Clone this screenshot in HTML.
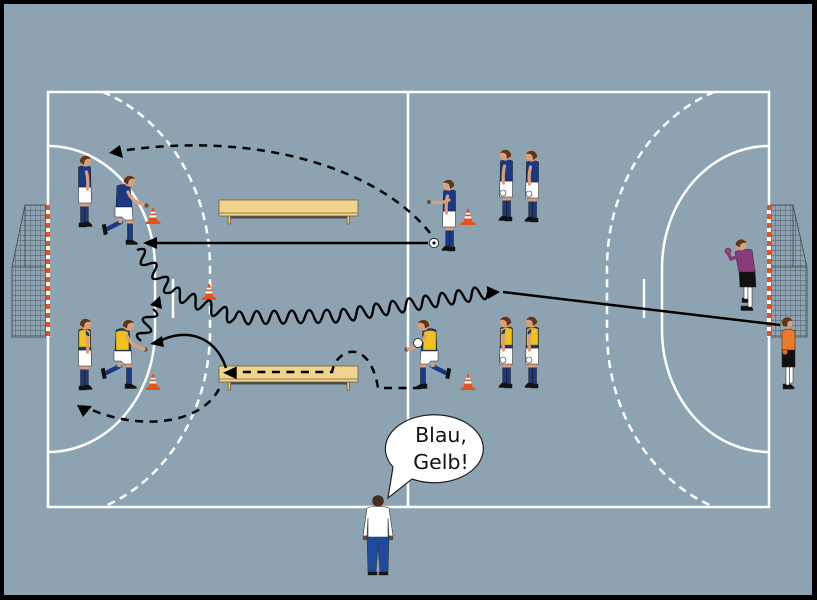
<!DOCTYPE html>
<html><head><meta charset="utf-8"><style>html,body{margin:0;padding:0;background:#000}svg{display:block}</style></head>
<body>
<svg width="817" height="600" viewBox="0 0 817 600" xmlns="http://www.w3.org/2000/svg">
<defs>
 <pattern id="net" width="5" height="5" patternUnits="userSpaceOnUse">
  <path d="M0,0 H5 M0,0 V5" stroke="#3b4650" stroke-width="0.7" fill="none"/>
 </pattern>
 <pattern id="post" width="4" height="9" patternUnits="userSpaceOnUse" x="0" y="205">
  <rect width="4" height="9" fill="#fff"/><rect width="4" height="5" fill="#e4531b"/>
 </pattern>
 <g id="cone">
  <path d="M-8,0 h16 l-2,-3 h-12 z" fill="#e4531b"/>
  <path d="M-4.5,-3 L-0.8,-16 h1.6 L4.5,-3 z" fill="#e4531b"/>
  <path d="M-3.5,-6.5 h7 l-0.6,-2.2 h-5.8z" fill="#fff"/>
  <path d="M-2.4,-10.5 h4.8 l-0.5,-1.8 h-3.8z" fill="#fff"/>
 </g>
 <g id="sB" stroke="#1a1a1a" stroke-width="0.5">
  <path d="M-6,-4 h6 l1.5,3 v1 h-7.5z" fill="#111"/>
  <path d="M-1,-5 h5 l3,3 v1.5 h-8z" fill="#111"/>
  <path d="M-4.5,-21 h3.8 v17 h-3.8z" fill="#1a3883"/>
  <path d="M-0.5,-21 h3.8 v16 h-3.8z" fill="#1a3883"/>
  <path d="M-4.5,-24 h8 v3.5 h-8z" fill="#dba07a" stroke="none"/>
  <path d="M-6.5,-40 h12.5 l0.5,16 h-13z" fill="#fff"/>
  <path d="M-6.5,-60 q6.5,-3 12,0 l0.5,20 h-12.5z" fill="#1a3883"/>
  <path d="M1.5,-55 q2,8 1,17" stroke="#dba07a" stroke-width="3.2" fill="none" stroke-linecap="round"/>
  <circle cx="0.5" cy="-66" r="5.6" fill="#dba07a" stroke="none"/>
  <path d="M-5.2,-65 a5.8,5.8 0 0 1 11,-3 q-4,-1 -6,1.5 l-1,4.5 z" fill="#5a381e" stroke="none"/>
 </g>
 <g id="sY">
  <use href="#sB"/>
  <path d="M-6,-59 q5.5,-2.5 11,0 l0.5,16 h-11.5z" fill="#f2c21c" stroke="#6a5a10" stroke-width=".5"/>
  <path d="M0.5,-59 q3.5,0 4,5 l-3,1z" fill="#1a3883"/>
  <path d="M1.8,-53 q2,7 0.8,15" stroke="#dba07a" stroke-width="3.2" fill="none" stroke-linecap="round"/>
 </g>
 <g id="rB" stroke="#1a1a1a" stroke-width="0.5">
  <path d="M-11,-22 L-25,-15" stroke="#1a3883" stroke-width="4.5" stroke-linecap="round"/>
  <path d="M-11,-25 L-12,-21" stroke="#dba07a" stroke-width="4"/>
  <path d="M-30,-19 l3.5,-1 l2,10 l-3.5,1z" fill="#111"/>
  <path d="M-4.5,-21 h5 v18 h-5z" fill="#1a3883"/>
  <path d="M-6,-4 h6 l5.5,3 v1.5 h-11.5z" fill="#111"/>
  <path d="M-5,-24 h6 v3.5 h-6z" fill="#dba07a" stroke="none"/>
  <path d="M-17,-38 h17 l1,14 h-8 l-3,-3 h-7z" fill="#fff"/>
  <path d="M-15,-58 q6,-3 13,0 l2,21 h-16z" fill="#1a3883"/>
  <path d="M-4,-52 q4,10 17,13" stroke="#dba07a" stroke-width="3.2" fill="none" stroke-linecap="round"/>
  <circle cx="14.5" cy="-38.5" r="2.2" fill="#6b4a35" stroke="none"/>
  <circle cx="-2.5" cy="-63" r="5.6" fill="#dba07a" stroke="none"/>
  <path d="M-8.2,-62 a5.8,5.8 0 0 1 11,-3 q-4,-1 -6,1.5 l-1,4 z" fill="#5a381e" stroke="none"/>
 </g>
 <g id="rY">
  <use href="#rB"/>
  <path d="M-15,-56 q6,-3 12,0 l1,18 h-13z" fill="#f2c21c" stroke="#6a5a10" stroke-width=".5"/>
  <path d="M-4,-52 q4,10 17,13" stroke="#dba07a" stroke-width="3.2" fill="none" stroke-linecap="round"/>
 </g>
</defs>

<rect x="0" y="0" width="817" height="600" fill="#000"/>
<rect x="4" y="4" width="808" height="591" fill="#8ea3b1"/>

<!-- court -->
<g fill="none" stroke="#fff" stroke-width="2.5">
 <rect x="48" y="92" width="721" height="415"/>
 <line x1="408" y1="92" x2="408" y2="507"/>
 <path d="M48,146 A107,122 0 0 1 155,268 L155,330 A107,122 0 0 1 48,452"/>
 <path d="M769,146 A107,122 0 0 0 662,268 L662,330 A107,122 0 0 0 769,452"/>
 <path d="M102.7,92 A162,187 0 0 1 210,268 L210,330 A162,187 0 0 1 102.7,507" stroke-dasharray="8 5.5"/>
 <path d="M714.3,92 A162,187 0 0 0 607,268 L607,330 A162,187 0 0 0 714.3,507" stroke-dasharray="8 5.5"/>
 <line x1="173" y1="279" x2="173" y2="318"/>
 <line x1="644" y1="279" x2="644" y2="318"/>
</g>

<!-- goals -->
<path d="M46,205 L25,205 L12,267 L12,337 L46,337 Z" fill="url(#net)" stroke="#3b4650" stroke-width="0.8"/>
<path d="M12,267 H46 M25,205 L25,267" stroke="#3b4650" stroke-width="0.8"/>
<rect x="46" y="205" width="4" height="132" fill="url(#post)"/>
<path d="M771,205 L793,205 L807,267 L807,337 L771,337 Z" fill="url(#net)" stroke="#3b4650" stroke-width="0.8"/>
<path d="M771,267 H807 M793,205 L793,267" stroke="#3b4650" stroke-width="0.8"/>
<rect x="767" y="205" width="4" height="132" fill="url(#post)"/>

<!-- benches -->
<g stroke="#6e6040" stroke-width="0.8">
 <rect x="228" y="215" width="2.5" height="9" fill="#e8c878"/>
 <rect x="347" y="215" width="2.5" height="9" fill="#e8c878"/>
 <rect x="231" y="216" width="116" height="2.5" fill="#4a4a4a" stroke="none"/>
 <rect x="219" y="200" width="139" height="16" fill="#f1d48b"/>
 <line x1="219" y1="213" x2="358" y2="213"/>
 <rect x="228" y="381" width="2.5" height="9" fill="#e8c878"/>
 <rect x="347" y="381" width="2.5" height="9" fill="#e8c878"/>
 <rect x="231" y="382" width="116" height="2.5" fill="#4a4a4a" stroke="none"/>
 <rect x="219" y="366" width="139" height="16" fill="#f1d48b"/>
 <line x1="219" y1="379" x2="358" y2="379"/>
</g>

<!-- cones -->
<use href="#cone" transform="translate(153,224)"/>
<use href="#cone" transform="translate(209,300)"/>
<use href="#cone" transform="translate(153,390)"/>
<use href="#cone" transform="translate(468,225)"/>
<use href="#cone" transform="translate(468,390)"/>

<!-- arrows -->
<g fill="none" stroke="#000" stroke-width="2.5">
 <line x1="156" y1="243" x2="428" y2="243"/>
 <path d="M430,233 C380,170 260,130 120,151" stroke-dasharray="8 6.5"/>
 <path d="M421,388 L378,388 C374,362 362,350 350,352 C340,354 334,362 332,372 L237,372" stroke-dasharray="8 6.5"/>
 <path d="M219,389 C200,425 140,430 92,410" stroke-dasharray="8 6.5"/>
 <path d="M226,368 C215,335 185,328 160,341"/>
 <line x1="503" y1="292" x2="780" y2="325"/>
 <g stroke-width="2.4">
  <path transform="translate(137,250) rotate(50.2)" d="M0,0 q4.55,-12 9.1,0 t9.1,0 t9.1,0 t9.1,0 t9.1,0 t9.1,0"/>
  <path transform="translate(172,292) rotate(22.4)" d="M0,0 q4.25,-13 8.5,0 t8.5,0 t8.5,0 t8.5,0 t8.5,0 t8.5,0 t8.5,0 t8.5,0"/>
  <path transform="translate(235,318) rotate(-1.1)" d="M0,0 q4.375,-13 8.75,0 t8.75,0 t8.75,0 t8.75,0 t8.75,0 t8.75,0 t8.75,0 t8.75,0 t8.75,0 t8.75,0 t8.75,0 t8.75,0"/>
  <path transform="translate(340,316) rotate(-9.2)" d="M0,0 q4.165,-13 8.33,0 t8.33,0 t8.33,0 t8.33,0 t8.33,0 t8.33,0 t8.33,0 t8.33,0 t8.33,0 t8.33,0 t8.33,0 t8.33,0 t8.33,0 t8.33,0 t8.33,0 t8.33,0 t8.33,0 t8.33,0"/>
  <path transform="translate(141,341) rotate(-69.4)" d="M0,0 q4.27,-12 8.55,0 t8.55,0 t8.55,0 t8.55,0"/>
 </g>
</g>
<g fill="#000">
 <path d="M143,243 L157,237 L157,249 Z"/>
 <path d="M109,153 L120,145 L123,158 Z"/>
 <path d="M500,292 L486.7,286 L488,299 Z"/>
 <path d="M160,296 L150,305 L162,309 Z"/>
 <path d="M150,344 L162,336 L164,347 Z"/>
 <path d="M223,372.7 L236.7,366.5 L236.7,379.3 Z"/>
 <path d="M83,417 L77,405 L92,406 Z"/>
</g>

<!-- players left -->
<use href="#sB" transform="translate(85,227)"/>
<use href="#rB" transform="translate(132,244)"/>
<use href="#sY" transform="translate(85,390)"/>
<use href="#rY" transform="translate(131,388)"/>

<!-- middle blue -->
<use href="#sB" transform="translate(449,251) scale(-1,1)"/>
<path d="M449,200 q-8,4 -18,2" stroke="#dba07a" stroke-width="3.2" fill="none" stroke-linecap="round"/>
<circle cx="429" cy="202" r="2" fill="#6b4a35"/>
<circle cx="434" cy="243" r="4.7" fill="#fff" stroke="#111" stroke-width="0.8"/>
<circle cx="434" cy="243" r="1.6" fill="#111"/>
<use href="#sB" transform="translate(506,221) scale(-1,1)"/>
<use href="#sB" transform="translate(532,222) scale(-1,1)"/>
<circle cx="503" cy="193" r="3" fill="#fff" stroke="#333" stroke-width=".6"/>
<circle cx="529" cy="194" r="3" fill="#fff" stroke="#333" stroke-width=".6"/>

<!-- middle yellow -->
<use href="#rY" transform="translate(421,388) scale(-1,1)"/>
<circle cx="418" cy="343" r="4.5" fill="#fff" stroke="#111" stroke-width="0.8"/>
<use href="#sY" transform="translate(506,388) scale(-1,1)"/>
<use href="#sY" transform="translate(532,388) scale(-1,1)"/>
<circle cx="503" cy="360" r="3" fill="#fff" stroke="#333" stroke-width=".6"/>
<circle cx="529" cy="360" r="3" fill="#fff" stroke="#333" stroke-width=".6"/>

<!-- goalkeeper purple -->
<g stroke="#222" stroke-width="0.5">
 <path d="M741,306 h9 l3,3 v1.5 h-12z" fill="#111"/>
 <path d="M742,298 h8 l2,3 v1.5 h-10z" fill="#111"/>
 <rect x="744" y="286" width="4" height="13" fill="#fff"/>
 <rect x="748" y="287" width="4" height="20" fill="#fff"/>
 <path d="M739,270 h16 l1,17 h-16z" fill="#111"/>
 <path d="M735,252 q8,-4 17,-2 l3,22 h-16z" fill="#8a3a7c"/>
 <path d="M739,256 l-8,3 l-3,-6" stroke="#8a3a7c" stroke-width="3.5" fill="none"/>
 <circle cx="728" cy="251" r="3" fill="#a0408a"/>
 <circle cx="741" cy="245" r="5.5" fill="#dba07a" stroke="none"/>
 <path d="M735.5,245 a5.7,5.7 0 0 1 11,-2 q-4,-1 -6,1.5 l-1,3 z" fill="#5a381e" stroke="none"/>
</g>

<!-- orange player -->
<g stroke="#222" stroke-width="0.5">
 <path d="M783,384 h7 l4,3 v2 h-11z" fill="#111"/>
 <rect x="786" y="366" width="3.5" height="19" fill="#fff"/>
 <rect x="789.5" y="366" width="3.5" height="17" fill="#fff"/>
 <path d="M782,348 h13 v19 h-13z" fill="#111"/>
 <path d="M782,331 q6,-3 13,0 v19 h-13z" fill="#ec7a2e"/>
 <path d="M785,336 v14" stroke="#ec7a2e" stroke-width="3.5"/>
 <circle cx="785" cy="352" r="2.8" fill="#e06a20"/>
 <circle cx="787" cy="323" r="5.5" fill="#dba07a" stroke="none"/>
 <path d="M781.5,323 a5.7,5.7 0 0 1 11,-2 q-3,-1 -5,1.5 v4 h-4 z" fill="#5a381e" stroke="none"/>
</g>

<!-- coach -->
<g stroke="#333" stroke-width="0.6">
 <path d="M367,535 h22 l-1,37 h-8 l-2,-26 l-2,26 h-8z" fill="#1e4a9c"/>
 <path d="M368,572 h9 v3 h-9z M379,572 h9 v3 h-9z" fill="#111"/>
 <path d="M367,508 q11,-4 22,0 l4,28 h-4 l-1,-18 v19 h-20 v-19 l-1,18 h-4z" fill="#fff"/>
 <circle cx="365" cy="538" r="2" fill="#7a4a30"/>
 <circle cx="391" cy="538" r="2" fill="#7a4a30"/>
 <circle cx="378" cy="501" r="5.5" fill="#4a2e1c"/>
</g>

<!-- speech bubble -->
<path d="M393,467 L388,498 L412,479 A49,34 0 1 0 393,467 Z" fill="#fff" stroke="#222" stroke-width="1.2"/>
<text x="441" y="442" font-family="DejaVu Sans, Liberation Sans, sans-serif" font-size="20.5" text-anchor="middle" fill="#111">Blau,</text>
<text x="441" y="469" font-family="DejaVu Sans, Liberation Sans, sans-serif" font-size="20.5" text-anchor="middle" fill="#111">Gelb!</text>
</svg>
</body></html>
